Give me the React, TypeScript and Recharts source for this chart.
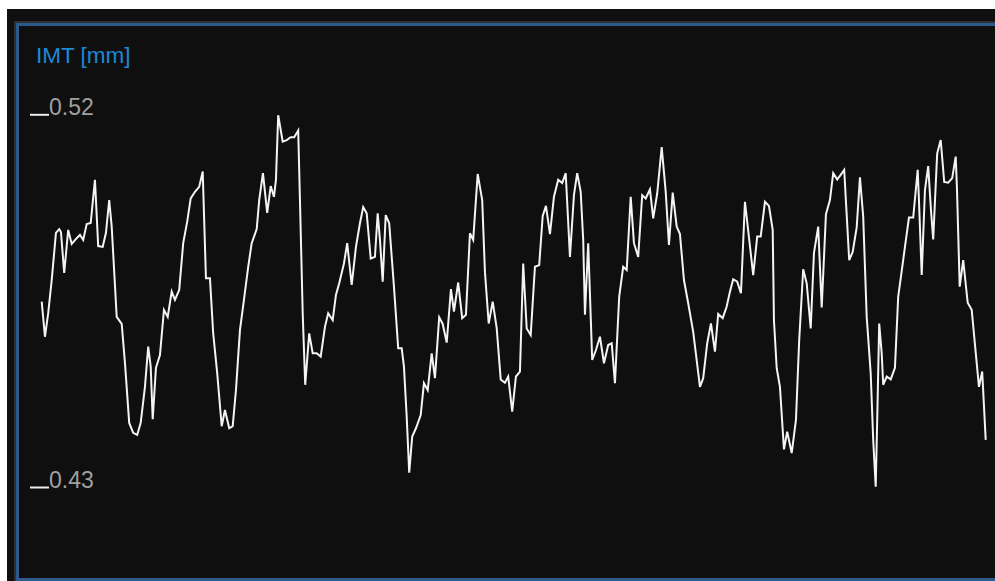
import React from "react";
import { LineChart, Line, XAxis, YAxis } from "recharts";

// time of each sample in ms
const timeMs: number[] = [
  0, 13, 26, 40, 57, 70, 77, 90, 106, 120, 140, 153, 166, 180, 196, 213, 226, 244, 257, 270,
  280, 300, 320, 333, 350, 366, 382, 396, 413, 426, 436, 444, 457, 473, 489, 504, 520, 533, 550, 566,
  582, 596, 613, 630, 644, 657, 673, 686, 702, 720, 733, 750, 764, 777, 793, 809, 826, 840, 860, 870,
  885, 902, 916, 929, 937, 946, 964, 980, 996, 1010, 1026, 1033, 1044, 1054, 1070, 1084, 1100, 1116, 1133, 1146,
  1164, 1177, 1190, 1209, 1222, 1240, 1257, 1273, 1286, 1300, 1316, 1333, 1344, 1353, 1364, 1376, 1390, 1409, 1426, 1440,
  1449, 1460, 1470, 1482, 1497, 1516, 1529, 1544, 1560, 1573, 1590, 1604, 1620, 1637, 1649, 1666, 1682, 1697, 1713, 1726,
  1744, 1762, 1773, 1788, 1804, 1820, 1836, 1853, 1866, 1882, 1897, 1913, 1926, 1940, 1956, 1973, 1990, 2004, 2017, 2033,
  2049, 2066, 2082, 2096, 2113, 2129, 2142, 2156, 2166, 2173, 2186, 2202, 2217, 2233, 2249, 2266, 2280, 2293, 2310, 2326,
  2340, 2356, 2369, 2386, 2402, 2416, 2433, 2446, 2462, 2480, 2496, 2509, 2524, 2540, 2553, 2569, 2586, 2606, 2633, 2646,
  2662, 2677, 2693, 2706, 2724, 2740, 2753, 2766, 2782, 2797, 2813, 2846, 2862, 2876, 2893, 2909, 2924, 2929, 2940, 2953,
  2969, 2982, 3000, 3017, 3030, 3046, 3060, 3076, 3089, 3106, 3120, 3137, 3153, 3166, 3182, 3196, 3210, 3230, 3244, 3260,
  3273, 3286, 3300, 3316, 3326, 3336, 3342, 3350, 3360, 3366, 3380, 3396, 3413, 3426, 3437, 3453, 3469, 3486, 3504, 3509,
  3520, 3533, 3546, 3557, 3566, 3576, 3582, 3596, 3610, 3626, 3642, 3656, 3661, 3672, 3686, 3704, 3720, 3749, 3762, 3776,
];

// IMT value of each sample in mm
const imtMm: number[] = [
  0.4749, 0.4664, 0.4721, 0.4801, 0.4915, 0.4924, 0.4917, 0.4818, 0.4922, 0.4888, 0.4902, 0.4910, 0.4898, 0.4936, 0.4939, 0.5043, 0.4883, 0.4881, 0.4915, 0.4994,
  0.4930, 0.4712, 0.4695, 0.4601, 0.4456, 0.4432, 0.4427, 0.4456, 0.4543, 0.4640, 0.4592, 0.4465, 0.4589, 0.4620, 0.4729, 0.4712, 0.4773, 0.4753, 0.4777, 0.4890,
  0.4942, 0.4998, 0.5014, 0.5026, 0.5063, 0.4805, 0.4805, 0.4672, 0.4576, 0.4448, 0.4487, 0.4443, 0.4448, 0.4535, 0.4680, 0.4753, 0.4833, 0.4890, 0.4924, 0.4994,
  0.5059, 0.4963, 0.5028, 0.5002, 0.5043, 0.5199, 0.5135, 0.5139, 0.5146, 0.5146, 0.5162, 0.4994, 0.4721, 0.4548, 0.4672, 0.4624, 0.4624, 0.4616, 0.4688, 0.4721,
  0.4704, 0.4765, 0.4793, 0.4841, 0.4890, 0.4789, 0.4881, 0.4938, 0.4977, 0.4962, 0.4853, 0.4857, 0.4962, 0.4898, 0.4797, 0.4958, 0.4938, 0.4785, 0.4636, 0.4636,
  0.4592, 0.4471, 0.4336, 0.4423, 0.4443, 0.4475, 0.4552, 0.4535, 0.4624, 0.4564, 0.4711, 0.4695, 0.4650, 0.4779, 0.4725, 0.4795, 0.4709, 0.4717, 0.4914, 0.4898,
  0.5057, 0.4994, 0.4820, 0.4696, 0.4749, 0.4685, 0.4561, 0.4553, 0.4568, 0.4483, 0.4568, 0.4580, 0.4841, 0.4684, 0.4668, 0.4833, 0.4837, 0.4956, 0.4980, 0.4912,
  0.5002, 0.5043, 0.5035, 0.5059, 0.4857, 0.5006, 0.5059, 0.5014, 0.4898, 0.4717, 0.4890, 0.4608, 0.4632, 0.4664, 0.4600, 0.4644, 0.4648, 0.4552, 0.4761, 0.4833,
  0.4825, 0.5002, 0.4890, 0.4857, 0.5006, 0.4998, 0.5020, 0.4950, 0.5010, 0.5122, 0.5014, 0.4886, 0.5012, 0.4930, 0.4912, 0.4801, 0.4745, 0.4676, 0.4543, 0.4564,
  0.4648, 0.4696, 0.4628, 0.4719, 0.4709, 0.4737, 0.4773, 0.4803, 0.4797, 0.4769, 0.4990, 0.4813, 0.4906, 0.4906, 0.4990, 0.4980, 0.4922, 0.4704, 0.4588, 0.4543,
  0.4392, 0.4435, 0.4383, 0.4463, 0.4656, 0.4827, 0.4793, 0.4684, 0.4866, 0.4930, 0.4735, 0.4960, 0.4994, 0.5059, 0.5044, 0.5055, 0.5067, 0.4849, 0.4869, 0.4928,
  0.5049, 0.4954, 0.4712, 0.4576, 0.4415, 0.4302, 0.4463, 0.4696, 0.4624, 0.4548, 0.4568, 0.4561, 0.4589, 0.4761, 0.4809, 0.4881, 0.4952, 0.4952, 0.5067, 0.4994,
  0.4813, 0.5018, 0.5076, 0.4970, 0.4899, 0.5030, 0.5107, 0.5139, 0.5038, 0.5036, 0.5047, 0.5099, 0.5023, 0.4785, 0.4849, 0.4746, 0.4729, 0.4543, 0.4580, 0.4415,
];

const yTicks: number[] = [0.52, 0.43];
const yDomain: [number, number] = [0.43, 0.52];
const xDomain: [number, number] = [0, 3784];
const title = "IMT [mm]";

const data = timeMs.map((t, i) => ({ t, v: imtMm[i] }));

const FONT = "'Liberation Sans', Arial, sans-serif";

const renderYTick = (props: any) => {
  const { y, payload } = props;
  return (
    <g key={`tick-${payload.value}`}>
      <line x1={30} x2={49} y1={y} y2={y} stroke="#ececec" strokeWidth={2} />
      <text x={49} y={y + 0.5} fill="#a0a0a0" fontSize={23} fontFamily={FONT} textAnchor="start">
        {Number(payload.value).toFixed(2)}
      </text>
    </g>
  );
};

export default function App() {
  return (
    <div
      style={{
        position: "absolute",
        left: 0,
        top: 0,
        width: 995,
        height: 581,
        overflow: "hidden",
        background: "#ffffff",
      }}
    >
      <div
        style={{
          position: "absolute",
          left: 7,
          top: 9,
          width: 1000,
          height: 600,
          background: "#0f0f0f",
        }}
      />
      <div
        style={{
          position: "absolute",
          left: 16,
          top: 23,
          width: 1100,
          height: 558,
          boxSizing: "border-box",
          border: "3.5px solid #2a5b8c",
          boxShadow: "0 0 0 2px #2f2f2f",
          background: "#0f0f0f",
        }}
      />
      <div
        style={{
          position: "absolute",
          left: 36,
          top: 45,
          fontFamily: FONT,
          fontSize: 22.5,
          lineHeight: "22.5px",
          color: "#1c88d6",
          whiteSpace: "nowrap",
        }}
      >
        {title}
      </div>
      <div style={{ position: "absolute", left: 0, top: 0 }}>
        <LineChart
          width={995}
          height={581}
          data={data}
          margin={{ top: 114.8, right: 7.3, bottom: 93.5, left: 1.7 }}
        >
          <XAxis dataKey="t" type="number" domain={xDomain} hide />
          <YAxis
            type="number"
            domain={yDomain}
            ticks={yTicks}
            width={40}
            axisLine={false}
            tickLine={false}
            tick={renderYTick}
            interval={0}
          />
          <Line
            type="linear"
            dataKey="v"
            stroke="#f4f4f4"
            strokeWidth={2}
            dot={false}
            isAnimationActive={false}
          />
        </LineChart>
      </div>
    </div>
  );
}
